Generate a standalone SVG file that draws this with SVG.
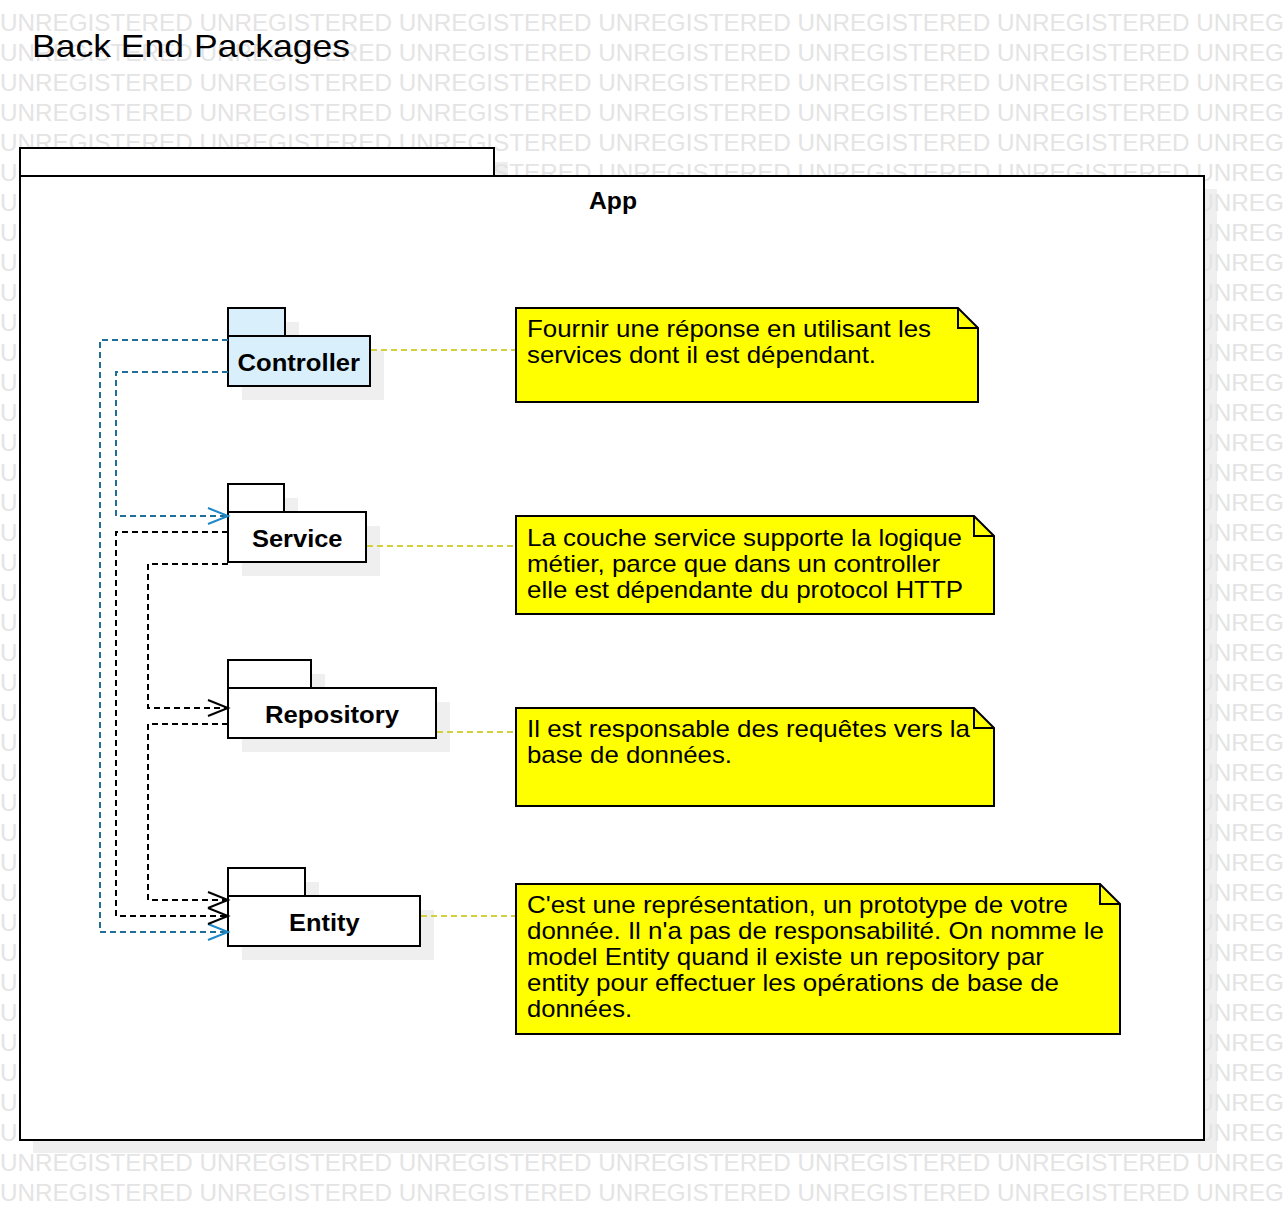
<svg xmlns="http://www.w3.org/2000/svg" width="1284" height="1220" viewBox="0 0 1284 1220">
<style>
.wm{font-family:"Liberation Sans",Arial,sans-serif;font-size:24px;fill:#e4e4e4}
.title{font-family:"Liberation Sans",Arial,sans-serif;font-size:32px;fill:#000}
.lbl{font-family:"Liberation Sans",Arial,sans-serif;font-size:24px;font-weight:bold;fill:#000}
.nt{font-family:"Liberation Sans",Arial,sans-serif;font-size:24px;fill:#000}
.shadow{fill:#efefef;stroke:none}
.frame{fill:#fff;stroke:#000;stroke-width:2}
.pkg{fill:#fff;stroke:#000;stroke-width:2}
.pkgc{fill:#d9f0fc;stroke:#000;stroke-width:2}
.note{fill:#ffff00;stroke:#000;stroke-width:2}
.fold{fill:none;stroke:#000;stroke-width:2}
.dep{fill:none;stroke:#000;stroke-width:2;stroke-dasharray:6,4}
.depb{fill:none;stroke:#1f6f98;stroke-width:2;stroke-dasharray:6,4}
.arr{fill:none;stroke:#000;stroke-width:2}
.arrb{fill:none;stroke:#1e88c8;stroke-width:2}
.anc{fill:none;stroke:#d4cf3c;stroke-width:2;stroke-dasharray:6,4}
</style>
<rect width="1284" height="1220" fill="#fff"/>
<!-- frame shadow -->
<rect class="shadow" x="34" y="162" width="474" height="28"/>
<rect class="shadow" x="33" y="189" width="1184" height="964"/>
<!-- watermark -->
<g id="watermark">
<text class="wm" x="0" y="31" textLength="1389" lengthAdjust="spacingAndGlyphs">UNREGISTERED UNREGISTERED UNREGISTERED UNREGISTERED UNREGISTERED UNREGISTERED UNREGISTERED</text>
<text class="wm" x="0" y="61" textLength="1389" lengthAdjust="spacingAndGlyphs">UNREGISTERED UNREGISTERED UNREGISTERED UNREGISTERED UNREGISTERED UNREGISTERED UNREGISTERED</text>
<text class="wm" x="0" y="91" textLength="1389" lengthAdjust="spacingAndGlyphs">UNREGISTERED UNREGISTERED UNREGISTERED UNREGISTERED UNREGISTERED UNREGISTERED UNREGISTERED</text>
<text class="wm" x="0" y="121" textLength="1389" lengthAdjust="spacingAndGlyphs">UNREGISTERED UNREGISTERED UNREGISTERED UNREGISTERED UNREGISTERED UNREGISTERED UNREGISTERED</text>
<text class="wm" x="0" y="151" textLength="1389" lengthAdjust="spacingAndGlyphs">UNREGISTERED UNREGISTERED UNREGISTERED UNREGISTERED UNREGISTERED UNREGISTERED UNREGISTERED</text>
<text class="wm" x="0" y="181" textLength="1389" lengthAdjust="spacingAndGlyphs">UNREGISTERED UNREGISTERED UNREGISTERED UNREGISTERED UNREGISTERED UNREGISTERED UNREGISTERED</text>
<text class="wm" x="0" y="211" textLength="1389" lengthAdjust="spacingAndGlyphs">UNREGISTERED UNREGISTERED UNREGISTERED UNREGISTERED UNREGISTERED UNREGISTERED UNREGISTERED</text>
<text class="wm" x="0" y="241" textLength="1389" lengthAdjust="spacingAndGlyphs">UNREGISTERED UNREGISTERED UNREGISTERED UNREGISTERED UNREGISTERED UNREGISTERED UNREGISTERED</text>
<text class="wm" x="0" y="271" textLength="1389" lengthAdjust="spacingAndGlyphs">UNREGISTERED UNREGISTERED UNREGISTERED UNREGISTERED UNREGISTERED UNREGISTERED UNREGISTERED</text>
<text class="wm" x="0" y="301" textLength="1389" lengthAdjust="spacingAndGlyphs">UNREGISTERED UNREGISTERED UNREGISTERED UNREGISTERED UNREGISTERED UNREGISTERED UNREGISTERED</text>
<text class="wm" x="0" y="331" textLength="1389" lengthAdjust="spacingAndGlyphs">UNREGISTERED UNREGISTERED UNREGISTERED UNREGISTERED UNREGISTERED UNREGISTERED UNREGISTERED</text>
<text class="wm" x="0" y="361" textLength="1389" lengthAdjust="spacingAndGlyphs">UNREGISTERED UNREGISTERED UNREGISTERED UNREGISTERED UNREGISTERED UNREGISTERED UNREGISTERED</text>
<text class="wm" x="0" y="391" textLength="1389" lengthAdjust="spacingAndGlyphs">UNREGISTERED UNREGISTERED UNREGISTERED UNREGISTERED UNREGISTERED UNREGISTERED UNREGISTERED</text>
<text class="wm" x="0" y="421" textLength="1389" lengthAdjust="spacingAndGlyphs">UNREGISTERED UNREGISTERED UNREGISTERED UNREGISTERED UNREGISTERED UNREGISTERED UNREGISTERED</text>
<text class="wm" x="0" y="451" textLength="1389" lengthAdjust="spacingAndGlyphs">UNREGISTERED UNREGISTERED UNREGISTERED UNREGISTERED UNREGISTERED UNREGISTERED UNREGISTERED</text>
<text class="wm" x="0" y="481" textLength="1389" lengthAdjust="spacingAndGlyphs">UNREGISTERED UNREGISTERED UNREGISTERED UNREGISTERED UNREGISTERED UNREGISTERED UNREGISTERED</text>
<text class="wm" x="0" y="511" textLength="1389" lengthAdjust="spacingAndGlyphs">UNREGISTERED UNREGISTERED UNREGISTERED UNREGISTERED UNREGISTERED UNREGISTERED UNREGISTERED</text>
<text class="wm" x="0" y="541" textLength="1389" lengthAdjust="spacingAndGlyphs">UNREGISTERED UNREGISTERED UNREGISTERED UNREGISTERED UNREGISTERED UNREGISTERED UNREGISTERED</text>
<text class="wm" x="0" y="571" textLength="1389" lengthAdjust="spacingAndGlyphs">UNREGISTERED UNREGISTERED UNREGISTERED UNREGISTERED UNREGISTERED UNREGISTERED UNREGISTERED</text>
<text class="wm" x="0" y="601" textLength="1389" lengthAdjust="spacingAndGlyphs">UNREGISTERED UNREGISTERED UNREGISTERED UNREGISTERED UNREGISTERED UNREGISTERED UNREGISTERED</text>
<text class="wm" x="0" y="631" textLength="1389" lengthAdjust="spacingAndGlyphs">UNREGISTERED UNREGISTERED UNREGISTERED UNREGISTERED UNREGISTERED UNREGISTERED UNREGISTERED</text>
<text class="wm" x="0" y="661" textLength="1389" lengthAdjust="spacingAndGlyphs">UNREGISTERED UNREGISTERED UNREGISTERED UNREGISTERED UNREGISTERED UNREGISTERED UNREGISTERED</text>
<text class="wm" x="0" y="691" textLength="1389" lengthAdjust="spacingAndGlyphs">UNREGISTERED UNREGISTERED UNREGISTERED UNREGISTERED UNREGISTERED UNREGISTERED UNREGISTERED</text>
<text class="wm" x="0" y="721" textLength="1389" lengthAdjust="spacingAndGlyphs">UNREGISTERED UNREGISTERED UNREGISTERED UNREGISTERED UNREGISTERED UNREGISTERED UNREGISTERED</text>
<text class="wm" x="0" y="751" textLength="1389" lengthAdjust="spacingAndGlyphs">UNREGISTERED UNREGISTERED UNREGISTERED UNREGISTERED UNREGISTERED UNREGISTERED UNREGISTERED</text>
<text class="wm" x="0" y="781" textLength="1389" lengthAdjust="spacingAndGlyphs">UNREGISTERED UNREGISTERED UNREGISTERED UNREGISTERED UNREGISTERED UNREGISTERED UNREGISTERED</text>
<text class="wm" x="0" y="811" textLength="1389" lengthAdjust="spacingAndGlyphs">UNREGISTERED UNREGISTERED UNREGISTERED UNREGISTERED UNREGISTERED UNREGISTERED UNREGISTERED</text>
<text class="wm" x="0" y="841" textLength="1389" lengthAdjust="spacingAndGlyphs">UNREGISTERED UNREGISTERED UNREGISTERED UNREGISTERED UNREGISTERED UNREGISTERED UNREGISTERED</text>
<text class="wm" x="0" y="871" textLength="1389" lengthAdjust="spacingAndGlyphs">UNREGISTERED UNREGISTERED UNREGISTERED UNREGISTERED UNREGISTERED UNREGISTERED UNREGISTERED</text>
<text class="wm" x="0" y="901" textLength="1389" lengthAdjust="spacingAndGlyphs">UNREGISTERED UNREGISTERED UNREGISTERED UNREGISTERED UNREGISTERED UNREGISTERED UNREGISTERED</text>
<text class="wm" x="0" y="931" textLength="1389" lengthAdjust="spacingAndGlyphs">UNREGISTERED UNREGISTERED UNREGISTERED UNREGISTERED UNREGISTERED UNREGISTERED UNREGISTERED</text>
<text class="wm" x="0" y="961" textLength="1389" lengthAdjust="spacingAndGlyphs">UNREGISTERED UNREGISTERED UNREGISTERED UNREGISTERED UNREGISTERED UNREGISTERED UNREGISTERED</text>
<text class="wm" x="0" y="991" textLength="1389" lengthAdjust="spacingAndGlyphs">UNREGISTERED UNREGISTERED UNREGISTERED UNREGISTERED UNREGISTERED UNREGISTERED UNREGISTERED</text>
<text class="wm" x="0" y="1021" textLength="1389" lengthAdjust="spacingAndGlyphs">UNREGISTERED UNREGISTERED UNREGISTERED UNREGISTERED UNREGISTERED UNREGISTERED UNREGISTERED</text>
<text class="wm" x="0" y="1051" textLength="1389" lengthAdjust="spacingAndGlyphs">UNREGISTERED UNREGISTERED UNREGISTERED UNREGISTERED UNREGISTERED UNREGISTERED UNREGISTERED</text>
<text class="wm" x="0" y="1081" textLength="1389" lengthAdjust="spacingAndGlyphs">UNREGISTERED UNREGISTERED UNREGISTERED UNREGISTERED UNREGISTERED UNREGISTERED UNREGISTERED</text>
<text class="wm" x="0" y="1111" textLength="1389" lengthAdjust="spacingAndGlyphs">UNREGISTERED UNREGISTERED UNREGISTERED UNREGISTERED UNREGISTERED UNREGISTERED UNREGISTERED</text>
<text class="wm" x="0" y="1141" textLength="1389" lengthAdjust="spacingAndGlyphs">UNREGISTERED UNREGISTERED UNREGISTERED UNREGISTERED UNREGISTERED UNREGISTERED UNREGISTERED</text>
<text class="wm" x="0" y="1171" textLength="1389" lengthAdjust="spacingAndGlyphs">UNREGISTERED UNREGISTERED UNREGISTERED UNREGISTERED UNREGISTERED UNREGISTERED UNREGISTERED</text>
<text class="wm" x="0" y="1201" textLength="1389" lengthAdjust="spacingAndGlyphs">UNREGISTERED UNREGISTERED UNREGISTERED UNREGISTERED UNREGISTERED UNREGISTERED UNREGISTERED</text>
</g>
<!-- title -->
<text class="title" x="32" y="57" textLength="318" lengthAdjust="spacingAndGlyphs">Back End Packages</text>
<!-- App package -->
<g id="App">
<rect class="frame" x="20" y="148" width="474" height="28"/>
<rect class="frame" x="20" y="176" width="1184" height="964"/>
<text class="lbl" x="589" y="209" textLength="48" lengthAdjust="spacingAndGlyphs">App</text>
</g>
<!-- Controller -->
<g id="Controller">
<rect class="shadow" x="242" y="322" width="57" height="28"/>
<rect class="shadow" x="242" y="350" width="142" height="50"/>
<rect class="pkgc" x="228" y="308" width="57" height="28"/>
<rect class="pkgc" x="228" y="336" width="142" height="50"/>
<text class="lbl" x="237.5" y="371" textLength="122.5" lengthAdjust="spacingAndGlyphs">Controller</text>
</g>
<!-- Service -->
<g id="Service">
<rect class="shadow" x="242" y="498" width="56" height="28"/>
<rect class="shadow" x="242" y="526" width="138" height="50"/>
<rect class="pkg" x="228" y="484" width="56" height="28"/>
<rect class="pkg" x="228" y="512" width="138" height="50"/>
<text class="lbl" x="252" y="547" textLength="90.5" lengthAdjust="spacingAndGlyphs">Service</text>
</g>
<!-- Repository -->
<g id="Repository">
<rect class="shadow" x="242" y="674" width="83" height="28"/>
<rect class="shadow" x="242" y="702" width="208" height="50"/>
<rect class="pkg" x="228" y="660" width="83" height="28"/>
<rect class="pkg" x="228" y="688" width="208" height="50"/>
<text class="lbl" x="265" y="723" textLength="134" lengthAdjust="spacingAndGlyphs">Repository</text>
</g>
<!-- Entity -->
<g id="Entity">
<rect class="shadow" x="242" y="882" width="77" height="28"/>
<rect class="shadow" x="242" y="910" width="192" height="50"/>
<rect class="pkg" x="228" y="868" width="77" height="28"/>
<rect class="pkg" x="228" y="896" width="192" height="50"/>
<text class="lbl" x="289" y="931" textLength="70.5" lengthAdjust="spacingAndGlyphs">Entity</text>
</g>
<!-- Notes -->
<g id="NoteController">
<path class="note" d="M516,308 H958 L978,328 V402 H516 Z"/>
<polyline class="fold" points="958,308 958,328 978,328"/>
<text class="nt" x="527" y="337" textLength="404" lengthAdjust="spacingAndGlyphs">Fournir une réponse en utilisant les</text>
<text class="nt" x="527" y="363" textLength="349" lengthAdjust="spacingAndGlyphs">services dont il est dépendant.</text>
</g>
<g id="NoteService">
<path class="note" d="M516,516 H974 L994,536 V614 H516 Z"/>
<polyline class="fold" points="974,516 974,536 994,536"/>
<text class="nt" x="527" y="546" textLength="435" lengthAdjust="spacingAndGlyphs">La couche service supporte la logique</text>
<text class="nt" x="527" y="572" textLength="413" lengthAdjust="spacingAndGlyphs">métier, parce que dans un controller</text>
<text class="nt" x="527" y="598" textLength="436" lengthAdjust="spacingAndGlyphs">elle est dépendante du protocol HTTP</text>
</g>
<g id="NoteRepository">
<path class="note" d="M516,708 H974 L994,728 V806 H516 Z"/>
<polyline class="fold" points="974,708 974,728 994,728"/>
<text class="nt" x="527" y="737" textLength="443" lengthAdjust="spacingAndGlyphs">Il est responsable des requêtes vers la</text>
<text class="nt" x="527" y="763" textLength="205" lengthAdjust="spacingAndGlyphs">base de données.</text>
</g>
<g id="NoteEntity">
<path class="note" d="M516,884 H1100 L1120,904 V1034 H516 Z"/>
<polyline class="fold" points="1100,884 1100,904 1120,904"/>
<text class="nt" x="527" y="913" textLength="541" lengthAdjust="spacingAndGlyphs">C'est une représentation, un prototype de votre</text>
<text class="nt" x="527" y="939" textLength="577" lengthAdjust="spacingAndGlyphs">donnée. Il n'a pas de responsabilité. On nomme le</text>
<text class="nt" x="527" y="965" textLength="517" lengthAdjust="spacingAndGlyphs">model Entity quand il existe un repository par</text>
<text class="nt" x="527" y="991" textLength="532" lengthAdjust="spacingAndGlyphs">entity pour effectuer les opérations de base de</text>
<text class="nt" x="527" y="1017" textLength="105" lengthAdjust="spacingAndGlyphs">données.</text>
</g>
<!-- connectors -->
<g id="connectors">
<path class="depb" d="M228,340 H100 V932 H226"/>
<polyline class="arrb" points="208,924 228,932 208,940"/>
<path class="depb" d="M228,372 H116 V516 H226"/>
<polyline class="arrb" points="208,508 228,516 208,524"/>
<path class="dep" d="M228,532 H116 V916 H226"/>
<polyline class="arr" points="208,908 228,916 208,924"/>
<path class="dep" d="M228,564 H148 V708 H226"/>
<polyline class="arr" points="208,700 228,708 208,716"/>
<path class="dep" d="M228,724 H148 V900 H226"/>
<polyline class="arr" points="208,892 228,900 208,908"/>
<line class="anc" x1="371" y1="350" x2="515" y2="350"/>
<line class="anc" x1="367" y1="546" x2="515" y2="546"/>
<line class="anc" x1="437" y1="732" x2="515" y2="732"/>
<line class="anc" x1="421" y1="916" x2="515" y2="916"/>
</g>
</svg>
